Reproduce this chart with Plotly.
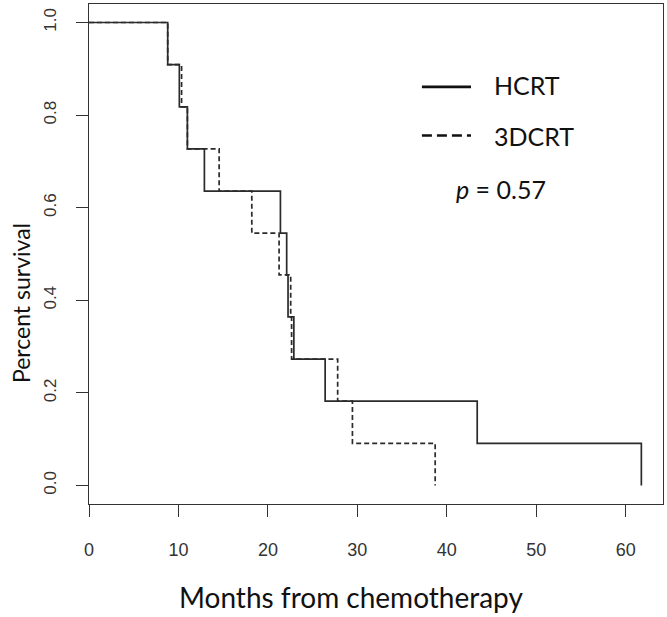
import plotly.graph_objects as go

# Kaplan-Meier step data (months, survival after each event)
hcrt_months = [0, 8.8, 10.1, 11.0, 12.9, 21.4, 22.1, 22.25, 22.9, 26.4, 43.4, 61.75]
hcrt_surv = [1.0, 0.909, 0.818, 0.727, 0.636, 0.545, 0.455, 0.364, 0.273, 0.182, 0.091, 0.0]

dcrt_months = [0, 8.8, 10.35, 11.0, 14.55, 18.2, 21.25, 22.55, 22.65, 27.8, 29.45, 38.7]
dcrt_surv = [1.0, 0.909, 0.818, 0.727, 0.636, 0.545, 0.455, 0.364, 0.273, 0.182, 0.091, 0.0]

x_ticks = [0, 10, 20, 30, 40, 50, 60]
y_ticks = [0.0, 0.2, 0.4, 0.6, 0.8, 1.0]
y_tick_labels = ["0.0", "0.2", "0.4", "0.6", "0.8", "1.0"]

series_names = ["HCRT", "3DCRT"]
p_value_text = "<i>p</i> = 0.57"

LINE = "#2b2b2b"
AX = "#333333"
TXT = "#111111"
TITLE_FONT = "Lato"

fig = go.Figure()
fig.add_trace(go.Scatter(x=hcrt_months, y=hcrt_surv, mode="lines", line_shape="hv",
                         line=dict(color=LINE, width=1.7), name=series_names[0],
                         showlegend=False))
fig.add_trace(go.Scatter(x=dcrt_months, y=dcrt_surv, mode="lines", line_shape="hv",
                         line=dict(color=LINE, width=1.7, dash="5px,3px"), name=series_names[1],
                         showlegend=False))

fig.update_xaxes(range=[0, 64.17], tickvals=x_ticks, ticks="outside", ticklen=12,
                 tickwidth=1.4, tickcolor=AX, showline=True, mirror=True, linecolor=AX,
                 linewidth=1.4, showgrid=False, zeroline=False,
                 tickfont=dict(family="Liberation Sans, Arial", size=18, color="#333333"),
                 ticklabelstandoff=17)
fig.update_yaxes(range=[-0.04, 1.04], tickvals=y_ticks, ticktext=y_tick_labels,
                 ticks="outside", ticklen=12, tickwidth=1.4, tickcolor=AX, showline=True,
                 mirror=True, linecolor=AX, linewidth=1.4, showgrid=False, zeroline=False,
                 tickangle=-90,
                 tickfont=dict(family="Liberation Sans, Arial", size=17, color="#333333"),
                 ticklabelstandoff=13)

annotations = [
    dict(text="Percent survival", x=-0.1185, y=0.402, xref="paper", yref="paper",
         textangle=-90, showarrow=False, xanchor="center", yanchor="middle",
         font=dict(family=TITLE_FONT, size=23, color=TXT)),
    dict(text="Months from chemotherapy", x=0.4565, y=-0.186, xref="paper", yref="paper",
         showarrow=False, xanchor="center", yanchor="middle",
         font=dict(family=TITLE_FONT, size=28, color=TXT)),
    dict(text=series_names[0], x=0.7028, y=0.838, xref="paper", yref="paper",
         showarrow=False, xanchor="left", yanchor="middle",
         font=dict(family=TITLE_FONT, size=25, color=TXT)),
    dict(text=series_names[1], x=0.7028, y=0.737, xref="paper", yref="paper",
         showarrow=False, xanchor="left", yanchor="middle",
         font=dict(family=TITLE_FONT, size=25, color=TXT)),
    dict(text=p_value_text, x=0.6355, y=0.63, xref="paper", yref="paper",
         showarrow=False, xanchor="left", yanchor="middle",
         font=dict(family=TITLE_FONT, size=25, color=TXT)),
]
shapes = [
    dict(type="line", xref="paper", yref="paper", x0=0.580, x1=0.6655, y0=0.8344, y1=0.8344,
         line=dict(color="#111111", width=2.7)),
    dict(type="line", xref="paper", yref="paper", x0=0.580, x1=0.6655, y0=0.737, y1=0.737,
         line=dict(color="#111111", width=2.7, dash="10px,5px")),
]

fig.update_layout(width=667, height=617, margin=dict(l=89, r=4, t=4, b=113),
                  paper_bgcolor="white", plot_bgcolor="white",
                  annotations=annotations, shapes=shapes, showlegend=False)

fig.write_html("out.html", config={"displayModeBar": False},
               post_script="document.body.style.margin='0';document.body.style.padding='0';")
